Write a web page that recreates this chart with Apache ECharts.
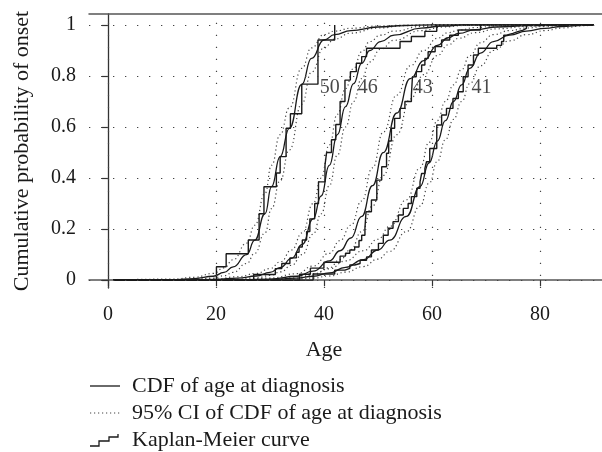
<!DOCTYPE html>
<html lang="en">
<head>
    <meta charset="UTF-8">
    <title>CDF of age at diagnosis</title>
    <script src="https://cdn.jsdelivr.net/npm/echarts@6.0.0/dist/echarts.min.js"></script>
    <style>
        html, body { margin: 0; padding: 0; background: #fff; }
    </style>
</head>
<body>
<div id="myChart" style="width: 602px;height:452px;"></div>

<script>
    // axis ticks
    var ageTicks = [0, 20, 40, 60, 80];
    var probTicks = [0, 0.2, 0.4, 0.6, 0.8, 1];

    // group 1 (n=50)
    var ages1  = [1, 12, 16, 19.5, 21.5, 23.2, 25.7, 27.2, 29.1, 30.3, 31.9, 33.6, 35.9, 37.7, 40, 42, 45, 50, 55, 60, 90];
    var cdf1   = [0, 0.002, 0.006, 0.015, 0.03, 0.052, 0.10, 0.157, 0.26, 0.366, 0.484, 0.595, 0.767, 0.869, 0.941, 0.962, 0.978, 0.992, 0.998, 1, 1];
    var ciLo1  = [0, 0.001, 0.003, 0.008, 0.017, 0.03, 0.065, 0.105, 0.185, 0.28, 0.39, 0.51, 0.69, 0.815, 0.91, 0.945, 0.968, 0.988, 0.997, 1, 1];
    var ciHi1  = [0, 0.004, 0.011, 0.026, 0.048, 0.08, 0.145, 0.215, 0.34, 0.45, 0.57, 0.675, 0.83, 0.91, 0.962, 0.976, 0.987, 0.996, 0.999, 1, 1];
    var km1 = [[1, 0], [20.1, 0.052], [21.9, 0.103], [26.0, 0.157], [28.0, 0.26], [28.9, 0.366], [31.2, 0.42],
               [31.9, 0.484], [33.0, 0.595], [33.8, 0.652], [35.9, 0.768], [38.9, 0.941], [42.0, 1.0]];

    // group 2 (n=46)
    var ages2  = [1, 15, 20, 24, 27.5, 30, 32, 34, 36, 38, 39.5, 41, 42.5, 44, 45.5, 47, 48.5, 50.5, 53, 58, 62, 66, 90];
    var cdf2   = [0, 0.001, 0.003, 0.008, 0.016, 0.03, 0.05, 0.085, 0.14, 0.24, 0.33, 0.45, 0.57, 0.68, 0.77, 0.85, 0.9, 0.935, 0.96, 0.988, 0.996, 1, 1];
    var ciLo2  = [0, 0.0005, 0.0015, 0.004, 0.009, 0.018, 0.032, 0.058, 0.1, 0.18, 0.26, 0.37, 0.49, 0.6, 0.7, 0.79, 0.855, 0.905, 0.94, 0.978, 0.992, 0.998, 1];
    var ciHi2  = [0, 0.002, 0.005, 0.013, 0.026, 0.045, 0.072, 0.118, 0.185, 0.3, 0.4, 0.53, 0.65, 0.75, 0.83, 0.895, 0.935, 0.96, 0.976, 0.994, 0.998, 1, 1];
    var km2 = [[1, 0], [27, 0.022], [31, 0.045], [32.2, 0.065], [33.7, 0.087], [34.9, 0.109], [35.4, 0.13], [36, 0.157],
               [36.8, 0.19], [37.4, 0.24], [38.3, 0.3], [39, 0.385], [40.2, 0.45], [40.5, 0.5], [41.4, 0.55], [42.2, 0.61],
               [43, 0.7], [43.9, 0.784], [44.9, 0.817], [46, 0.85], [47, 0.876], [47.9, 0.909], [54.1, 0.935],
               [56.2, 0.955], [58.7, 0.975], [60.9, 1.0]];

    // group 3 (n=43)
    var ages3  = [1, 20, 25, 30, 35, 38, 41, 43, 45, 47, 49, 51, 53.5, 56, 58.5, 61, 63, 65, 68, 72, 78, 85, 90];
    var cdf3   = [0, 0.0005, 0.001, 0.004, 0.015, 0.035, 0.075, 0.115, 0.165, 0.25, 0.37, 0.5, 0.655, 0.79, 0.86, 0.92, 0.95, 0.967, 0.982, 0.992, 0.998, 1, 1];
    var ciLo3  = [0, 0.0002, 0.0005, 0.002, 0.008, 0.02, 0.048, 0.08, 0.12, 0.19, 0.29, 0.41, 0.57, 0.71, 0.805, 0.88, 0.922, 0.948, 0.97, 0.985, 0.995, 0.999, 1];
    var ciHi3  = [0, 0.001, 0.002, 0.008, 0.025, 0.055, 0.105, 0.155, 0.215, 0.31, 0.44, 0.58, 0.725, 0.84, 0.9, 0.948, 0.97, 0.98, 0.99, 0.996, 0.999, 1, 1];
    var km3 = [[1, 0], [35.5, 0.023], [37.5, 0.047], [40, 0.07], [43, 0.094], [44, 0.105], [44.8, 0.118], [45.7, 0.13],
               [46.5, 0.155], [47, 0.176], [47.6, 0.203], [47.8, 0.268], [48.8, 0.314], [49.8, 0.392], [50.7, 0.444],
               [51.6, 0.497], [52.0, 0.545], [52.5, 0.595], [53.1, 0.634], [54.1, 0.673], [55, 0.7], [56.2, 0.725],
               [56.4, 0.797], [57.1, 0.817], [58.1, 0.843], [58.7, 0.869], [59.3, 0.895], [60.6, 0.915], [61.8, 0.941],
               [63.3, 0.96], [64.9, 0.98], [69, 1.0]];

    // group 4 (n=41)
    var ages4  = [1, 25, 30, 35, 38, 41, 44, 47.3, 50, 52.2, 55.3, 57.8, 59.5, 61, 62.5, 64, 65.5, 67, 69, 71.4, 74.4, 77.5, 81, 84, 88, 90];
    var cdf4   = [0, 0.0005, 0.002, 0.008, 0.015, 0.028, 0.05, 0.08, 0.118, 0.157, 0.25, 0.366, 0.46, 0.545, 0.625, 0.7, 0.765, 0.83, 0.89, 0.935, 0.96, 0.976, 0.987, 0.994, 0.999, 1];
    var ciLo4  = [0, 0.0002, 0.001, 0.004, 0.008, 0.016, 0.031, 0.053, 0.082, 0.113, 0.19, 0.29, 0.38, 0.465, 0.55, 0.63, 0.7, 0.77, 0.84, 0.9, 0.938, 0.962, 0.978, 0.988, 0.997, 1];
    var ciHi4  = [0, 0.001, 0.004, 0.014, 0.025, 0.044, 0.075, 0.115, 0.16, 0.21, 0.315, 0.44, 0.54, 0.625, 0.7, 0.765, 0.825, 0.88, 0.93, 0.962, 0.978, 0.988, 0.994, 0.998, 1, 1];
    var km4 = [[1, 0], [38, 0.024], [42, 0.039], [43.9, 0.046], [44.8, 0.059], [45.7, 0.065], [46.7, 0.078], [47.9, 0.091],
               [48.8, 0.118], [50.1, 0.144], [51, 0.176], [51.9, 0.203], [52.8, 0.229], [53.8, 0.255], [54.7, 0.281],
               [55.6, 0.3], [56.2, 0.327], [57.2, 0.36], [57.8, 0.385], [58.1, 0.418], [58.7, 0.438], [59, 0.464],
               [59.6, 0.516], [60.9, 0.608], [61.8, 0.647], [62.7, 0.673], [63.9, 0.712], [64.9, 0.738], [65.8, 0.797],
               [66.7, 0.843], [67.7, 0.882], [68.6, 0.909], [72, 0.92], [72.9, 0.935], [73.3, 0.96], [73.8, 0.967],
               [75, 0.974], [75.9, 0.98], [76.9, 0.987], [77.5, 1.0]];

    // group labels (sample size) placed next to the curves
    var labelText = ['50', '46', '43', '41'];
    var labelAge  = [41.1, 48.1, 58.3, 69.2];
    var labelProb = [0.755, 0.755, 0.755, 0.755];

    var legendNames = ['CDF of age at diagnosis', '95% CI of CDF of age at diagnosis', 'Kaplan-Meier curve'];

    var FONT = 'Liberation Serif';
    var INK = '#1a1a1a';
    var DOT = '#444';

    function zip(xs, ys) {
        return xs.map(function (x, i) { return [x, ys[i]]; });
    }

    var groups = [
        {ages: ages1, cdf: cdf1, lo: ciLo1, hi: ciHi1, km: km1},
        {ages: ages2, cdf: cdf2, lo: ciLo2, hi: ciHi2, km: km2},
        {ages: ages3, cdf: cdf3, lo: ciLo3, hi: ciHi3, km: km3},
        {ages: ages4, cdf: cdf4, lo: ciLo4, hi: ciHi4, km: km4}
    ];

    var series = [];

    // dotted reference grid, drawn at the tick values
    series.push({
        name: 'grid',
        type: 'line',
        data: [],
        silent: true,
        z: 1,
        markLine: {
            silent: true,
            symbol: ['none', 'none'],
            label: {show: false},
            lineStyle: {type: [1.3, 10.7], color: DOT, width: 1.2},
            data: ageTicks.map(function (v) { return {xAxis: v}; })
                .concat(probTicks.map(function (v) { return {yAxis: v}; }))
        }
    });

    groups.forEach(function (g) {
        [g.lo, g.hi].forEach(function (band) {
            series.push({
                name: legendNames[1], type: 'line', smooth: true, smoothMonotone: 'x',
                symbol: 'none', z: 2,
                lineStyle: {color: DOT, width: 1.2, type: [1.2, 2.8]},
                data: zip(g.ages, band)
            });
        });
        series.push({
            name: legendNames[0], type: 'line', smooth: true, smoothMonotone: 'x',
            symbol: 'none', z: 3,
            lineStyle: {color: INK, width: 1.3},
            data: zip(g.ages, g.cdf)
        });
        series.push({
            name: legendNames[2], type: 'line', step: 'end',
            symbol: 'none', z: 4,
            lineStyle: {color: INK, width: 1.4},
            data: g.km
        });
    });

    series.push({
        name: 'labels',
        type: 'scatter',
        symbolSize: 0,
        silent: true,
        z: 5,
        data: labelText.map(function (t, i) {
            return {value: [labelAge[i], labelProb[i]], label: {formatter: t}};
        }),
        label: {
            show: true, position: 'inside',
            fontFamily: FONT, fontSize: 20, color: INK
        }
    });

    // legend drawn as graphics: key sample + text per row
    var legX = 90, legW = 30, legTextX = 132, legY0 = 386, legStep = 27;
    var legend = [];
    legendNames.forEach(function (name, i) {
        var y = legY0 + i * legStep;
        if (i === 0) {
            legend.push({type: 'line', shape: {x1: legX, y1: y, x2: legX + legW, y2: y},
                         style: {stroke: INK, lineWidth: 1.3}});
        } else if (i === 1) {
            legend.push({type: 'line', shape: {x1: legX, y1: y, x2: legX + legW, y2: y},
                         style: {stroke: DOT, lineWidth: 1.2, lineDash: [1.2, 2.8]}});
        } else {
            legend.push({type: 'polyline',
                         shape: {points: [[legX, y + 6], [legX + 9, y + 6], [legX + 9, y + 1], [legX + 19, y + 1],
                                          [legX + 19, y - 3], [legX + 28, y - 3], [legX + 28, y - 6]]},
                         style: {stroke: INK, lineWidth: 1.3, fill: null}});
        }
        legend.push({type: 'text', x: legTextX, y: y,
                     style: {text: name, font: '22px "Liberation Serif"', fill: INK, verticalAlign: 'middle'}});
    });

    var myChart = echarts.init(document.getElementById('myChart'));

    var option = {
        animation: false,
        backgroundColor: '#fff',
        textStyle: {fontFamily: FONT},
        grid: {left: 89, right: 0, top: 14, bottom: 164, containLabel: false},
        graphic: legend,
        xAxis: [{
            type: 'value',
            min: -3.5,
            max: 91.5,
            name: 'Age',
            nameLocation: 'middle',
            nameGap: 51,
            // title sits under the 40 tick, left of the axis middle
            nameTextStyle: {fontFamily: FONT, fontSize: 22, color: INK, padding: [0, 43, 0, 0]},
            axisLine: {show: true, lineStyle: {color: '#555', width: 1.5}},
            axisTick: {show: true, customValues: ageTicks, length: 6, lineStyle: {color: '#333', width: 1.2}},
            axisLabel: {customValues: ageTicks, margin: 17, fontFamily: FONT, fontSize: 20, color: INK},
            splitLine: {show: false}
        }, {
            type: 'value',
            position: 'top',
            min: -3.5,
            max: 91.5,
            axisLine: {show: true, lineStyle: {color: '#555', width: 1.5}},
            axisTick: {show: false},
            axisLabel: {show: false},
            splitLine: {show: false}
        }],
        yAxis: {
            type: 'value',
            min: -0.031,
            max: 1.043,
            name: 'Cumulative probability of onset',
            nameLocation: 'middle',
            nameRotate: 90,
            nameGap: 56,
            nameTextStyle: {fontFamily: FONT, fontSize: 22, color: INK},
            axisLine: {show: true, lineStyle: {color: '#333', width: 1.3}},
            axisTick: {show: true, customValues: probTicks, length: 6, lineStyle: {color: '#333', width: 1.2}},
            axisLabel: {
                customValues: probTicks, margin: 13,
                fontFamily: FONT, fontSize: 20, color: INK,
                formatter: function (v) { return String(Math.round(v * 10) / 10); }
            },
            splitLine: {show: false}
        },
        series: series
    };

    myChart.setOption(option);
</script>
</body>
</html>
